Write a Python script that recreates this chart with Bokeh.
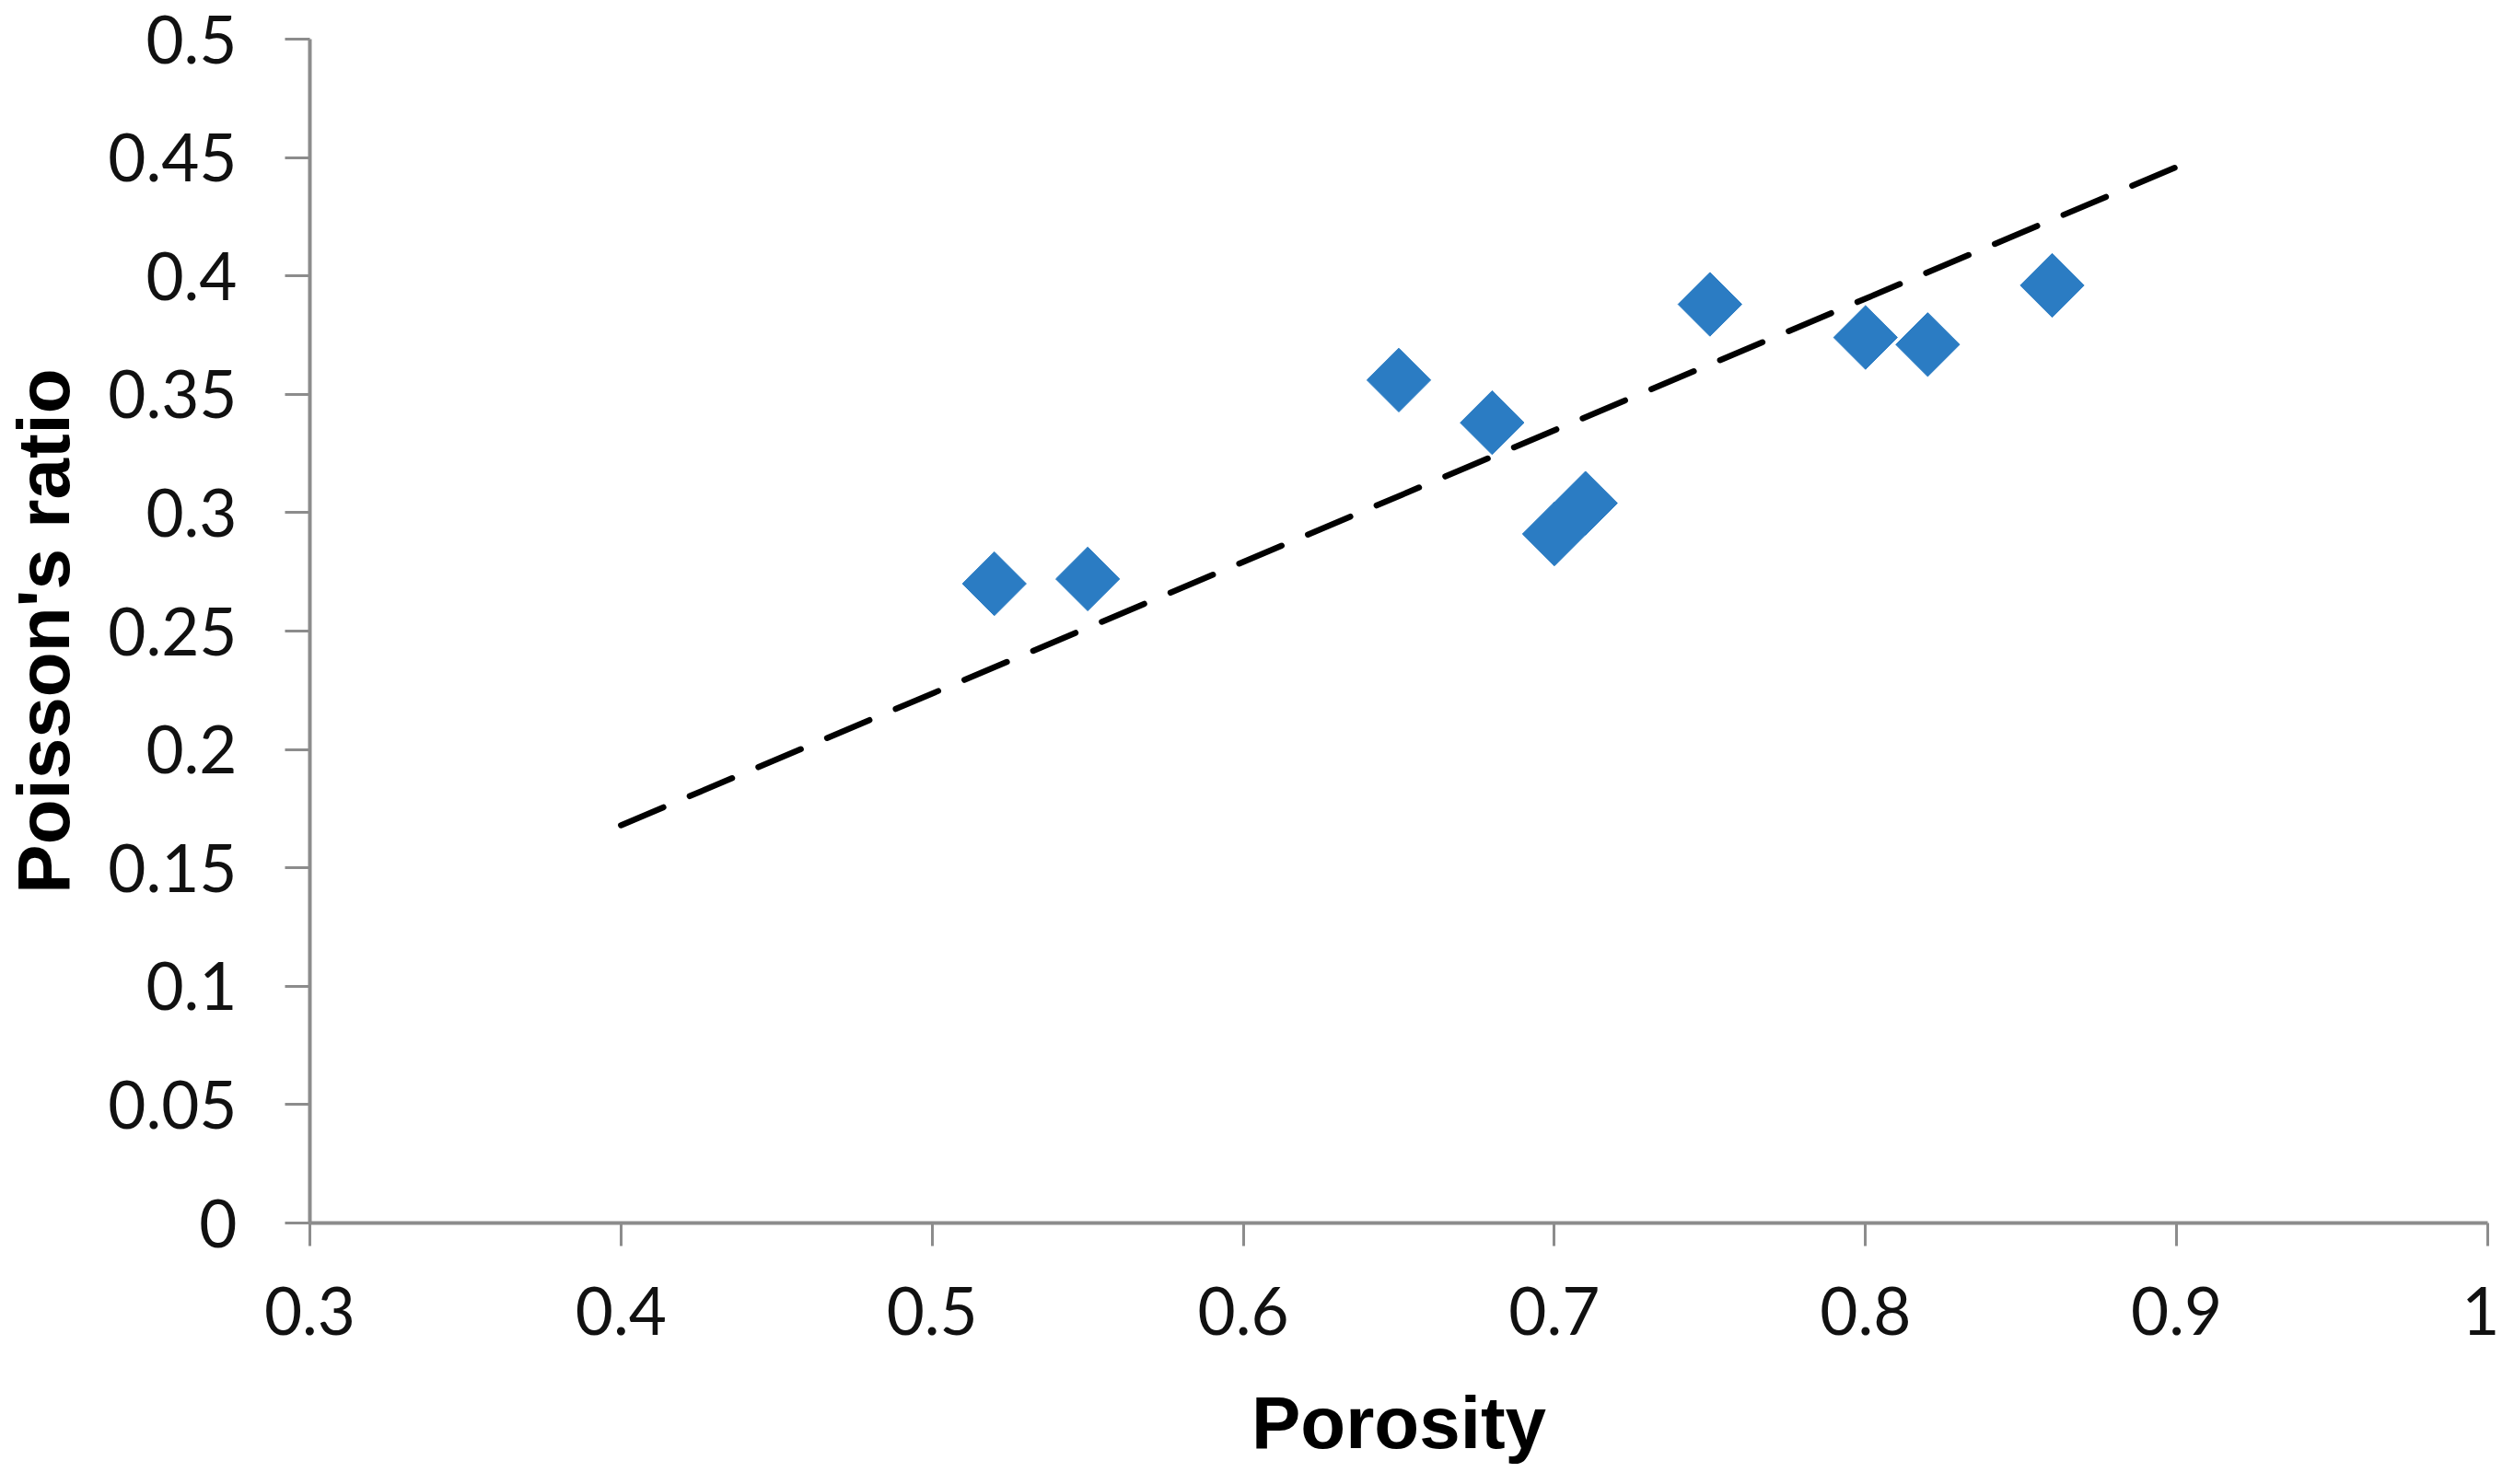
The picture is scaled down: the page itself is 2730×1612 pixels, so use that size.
import numpy as np
from bokeh.plotting import figure
from bokeh.models import Range1d, FixedTicker
from bokeh.embed import file_html
from bokeh.resources import INLINE

# ---- data ----
porosity = [0.52, 0.55, 0.65, 0.68, 0.70, 0.71, 0.75, 0.80, 0.82, 0.86]
poisson = [0.270, 0.272, 0.356, 0.338, 0.291, 0.304, 0.388, 0.374, 0.371, 0.396]

trend_x = [0.40, 0.90]
trend_y = [0.168, 0.446]

x_ticks = [0.3, 0.4, 0.5, 0.6, 0.7, 0.8, 0.9, 1.0]
x_tick_labels = ["0.3", "0.4", "0.5", "0.6", "0.7", "0.8", "0.9", "1"]
y_ticks = [0.0, 0.05, 0.1, 0.15, 0.2, 0.25, 0.3, 0.35, 0.4, 0.45, 0.5]
y_tick_labels = ["0", "0.05", "0.1", "0.15", "0.2", "0.25", "0.3", "0.35", "0.4", "0.45", "0.5"]

x_title = "Porosity"
y_title = "Poisson's ratio"

# ---- figure ----
p = figure(width=2714, height=1596, output_backend="svg", toolbar_location=None,
           x_range=Range1d(0.3, 1.0), y_range=Range1d(0.0, 0.5),
           min_border_left=332, min_border_right=13, min_border_top=42, min_border_bottom=268)
p.outline_line_color = None
p.xgrid.visible = False
p.ygrid.visible = False
p.background_fill_color = "white"
p.border_fill_color = "white"

p.scatter(porosity, poisson, marker="square", size=49, angle=np.pi / 4,
          fill_color="#2B7CC3", line_color="#2B7CC3", line_width=1)
p.line(trend_x, trend_y, line_color="black", line_width=6.5, line_dash="50 31", line_cap="round")

tick_font = "Lato"
for ax, ticks, labels in ((p.xaxis[0], x_ticks, x_tick_labels), (p.yaxis[0], y_ticks, y_tick_labels)):
    ax.ticker = FixedTicker(ticks=ticks)
    ax.major_label_overrides = {t: l for t, l in zip(ticks, labels)}
    ax.axis_line_color = "#8C8C8C"
    ax.axis_line_width = 4
    ax.major_tick_line_color = "#8C8C8C"
    ax.major_tick_line_width = 3
    ax.major_tick_in = 0
    ax.minor_tick_line_color = None
    ax.major_label_text_font = tick_font
    ax.major_label_text_font_size = "71px"
    ax.major_label_text_color = "#111111"
    ax.axis_label_text_font = "Liberation Sans"
    ax.axis_label_text_font_style = "bold"
    ax.axis_label_text_font_size = "80px"
    ax.axis_label_text_color = "black"

p.xaxis[0].major_tick_out = 25
p.xaxis[0].major_label_standoff = 44
p.xaxis[0].axis_label = x_title
p.xaxis[0].axis_label_standoff = 48

p.yaxis[0].major_tick_out = 27
p.yaxis[0].major_label_standoff = 52
p.yaxis[0].axis_label = y_title
p.yaxis[0].axis_label_standoff = 22

open("out.html", "w").write(file_html(p, INLINE))
